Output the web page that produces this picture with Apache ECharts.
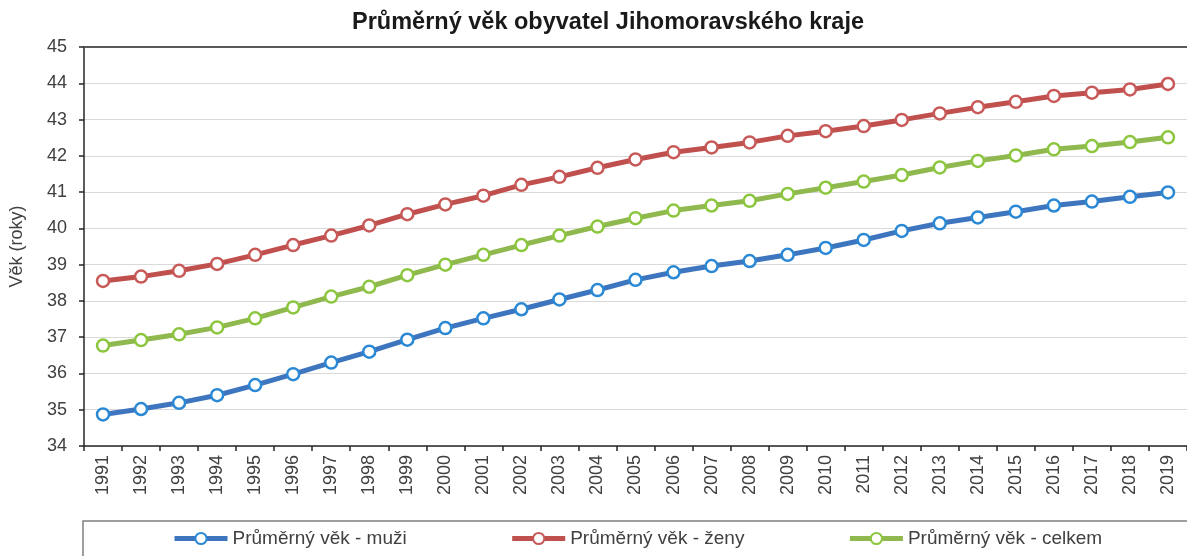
<!DOCTYPE html>
<html>
<head>
<meta charset="utf-8">
<style>
  html, body { margin: 0; padding: 0; background: #fff; }
  #chart { width: 1187px; height: 556px; }
</style>
<script src="https://cdn.jsdelivr.net/npm/echarts@6/dist/echarts.min.js"></script>
</head>
<body>
<div id="chart"></div>
<script>
const years = ["1991", "1992", "1993", "1994", "1995", "1996", "1997", "1998", "1999", "2000",
  "2001", "2002", "2003", "2004", "2005", "2006", "2007", "2008", "2009", "2010",
  "2011", "2012", "2013", "2014", "2015", "2016", "2017", "2018", "2019"];

const muzi = [34.87, 35.02, 35.19, 35.40, 35.68, 35.98, 36.30, 36.60, 36.93, 37.25,
  37.52, 37.77, 38.04, 38.30, 38.58, 38.79, 38.96, 39.10, 39.27, 39.46,
  39.68, 39.93, 40.14, 40.30, 40.46, 40.63, 40.74, 40.87, 40.99];

const zeny = [38.55, 38.67, 38.83, 39.02, 39.27, 39.54, 39.80, 40.08, 40.39, 40.66,
  40.90, 41.20, 41.42, 41.67, 41.90, 42.10, 42.23, 42.37, 42.55, 42.68,
  42.82, 42.99, 43.17, 43.34, 43.49, 43.65, 43.74, 43.83, 43.98];

const celkem = [36.77, 36.92, 37.08, 37.27, 37.52, 37.82, 38.12, 38.39, 38.71, 39.00,
  39.27, 39.54, 39.80, 40.05, 40.28, 40.49, 40.63, 40.76, 40.95, 41.12,
  41.29, 41.47, 41.68, 41.86, 42.01, 42.18, 42.27, 42.38, 42.51];

const font = "Liberation Sans";

function lineSeries(name, data, lineColor, markColor) {
  return {
    name: name,
    type: "line",
    data: data,
    symbol: "circle",
    symbolSize: 12,
    lineStyle: { width: 5, color: lineColor },
    itemStyle: { color: "#fff", borderColor: markColor, borderWidth: 2.5 }
  };
}

const chart = echarts.init(document.getElementById("chart"));

chart.setOption({
  animation: false,
  backgroundColor: "#fff",
  title: {
    text: "Průměrný věk obyvatel Jihomoravského kraje",
    left: 352,
    top: 11,
    padding: 0,
    textStyle: { fontFamily: font, fontSize: 23.5, fontWeight: "bold", color: "#1a1a1a" }
  },
  legend: {
    left: 172,
    top: 529,
    itemGap: 103,
    itemWidth: 53,
    itemHeight: 14,
    padding: 0,
    lineStyle: { width: 5 },
    textStyle: { fontFamily: font, fontSize: 19, color: "#404040" }
  },
  graphic: [
    {
      type: "rect",
      shape: { x: 83, y: 521, width: 1130, height: 60 },
      style: { fill: "none", stroke: "#7f7f7f", lineWidth: 1.5 },
      silent: true
    }
  ],
  grid: { left: 83, top: 47, bottom: 110, right: -4 },
  xAxis: [
    {
      type: "category",
      data: years,
      boundaryGap: true,
      axisLine: { lineStyle: { color: "#262626", width: 1.5 } },
      axisTick: { show: true, length: 5, lineStyle: { color: "#262626", width: 1.5 } },
      axisLabel: {
        rotate: 90,
        margin: 9,
        interval: 0,
        fontFamily: font,
        fontSize: 18,
        color: "#404040"
      },
      splitLine: { show: false }
    },
    {
      type: "category",
      data: years,
      position: "top",
      axisLine: { lineStyle: { color: "#595959", width: 2 } },
      axisTick: { show: false },
      axisLabel: { show: false }
    }
  ],
  yAxis: {
    type: "value",
    min: 34,
    max: 45,
    interval: 1,
    name: "Věk (roky)",
    nameLocation: "middle",
    nameRotate: 90,
    nameGap: 58,
    nameTextStyle: { fontFamily: font, fontSize: 18, color: "#404040" },
    axisLine: { show: true, lineStyle: { color: "#262626", width: 1.5 } },
    axisTick: { show: true, length: 5, lineStyle: { color: "#262626", width: 1.5 } },
    axisLabel: { margin: 17, fontFamily: font, fontSize: 18, color: "#404040" },
    splitLine: { lineStyle: { color: "#d9d9d9", width: 1.2 } }
  },
  series: [
    lineSeries("Průměrný věk - muži", muzi, "#3d76bf", "#2a88d4"),
    lineSeries("Průměrný věk - ženy", zeny, "#c0504d", "#c75a58"),
    lineSeries("Průměrný věk - celkem", celkem, "#8fb84f", "#8cc63f")
  ]
});
</script>
</body>
</html>
